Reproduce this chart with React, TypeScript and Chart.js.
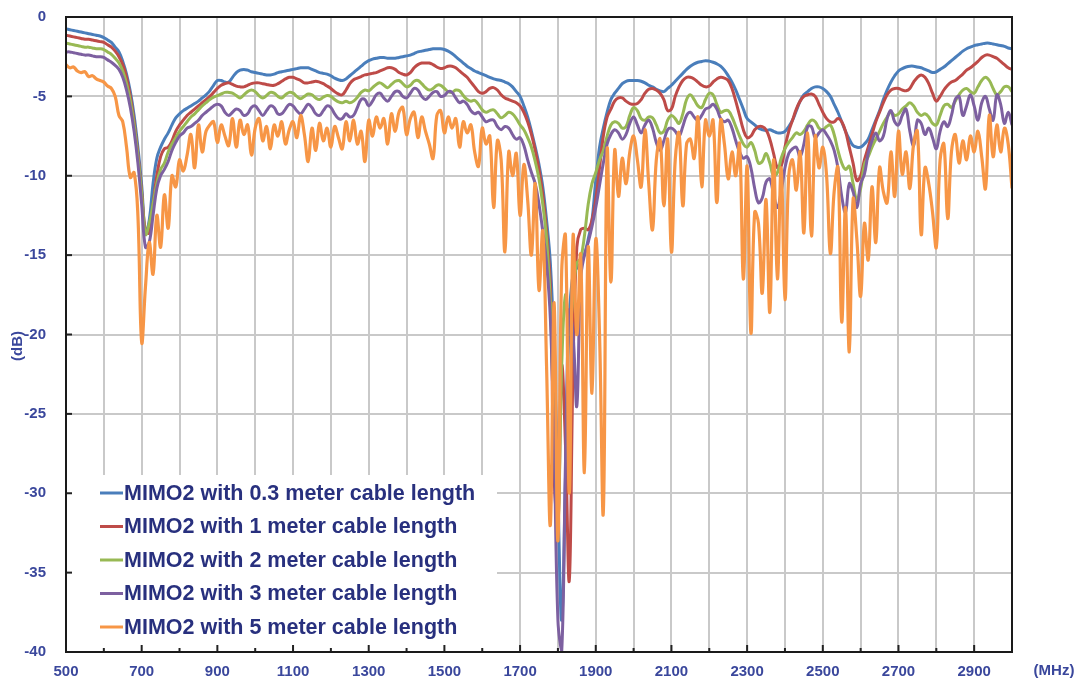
import React, { useEffect, useRef } from "react";
import { Chart, registerables } from "chart.js";

Chart.register(...registerables);

// Frequency sampling grid (MHz)
const FREQ_START = 500;
const FREQ_STEP = 10;

// Series values (dB), one value per 10 MHz from 500 to 3000 MHz
const cable03m = [
  -0.75, -0.8, -0.85, -0.9, -0.95, -1.0, -1.05, -1.1, -1.15, -1.2,
  -1.3, -1.45, -1.6, -1.9, -2.2, -2.8, -3.6, -4.7, -6.2, -8.2,
  -10.6, -13.6, -12.8, -10.5, -8.9, -8.2, -7.7, -7.3, -6.8, -6.35,
  -6.1, -5.9, -5.75, -5.6, -5.45, -5.3, -5.1, -4.9, -4.65, -4.3,
  -4.0, -4.0, -4.1, -4.1, -3.8, -3.5, -3.35, -3.3, -3.35, -3.45,
  -3.5, -3.55, -3.6, -3.65, -3.65, -3.6, -3.5, -3.45, -3.4, -3.35,
  -3.3, -3.25, -3.2, -3.2, -3.2, -3.3, -3.4, -3.5, -3.55, -3.6,
  -3.7, -3.85, -3.95, -4.0, -3.9, -3.7, -3.5, -3.3, -3.1, -2.9,
  -2.75, -2.65, -2.6, -2.55, -2.55, -2.6, -2.6, -2.6, -2.55, -2.5,
  -2.45, -2.4, -2.3, -2.2, -2.15, -2.1, -2.05, -2.0, -2.0, -2.0,
  -2.05, -2.15, -2.3, -2.5, -2.7, -2.9, -3.1, -3.25, -3.4, -3.5,
  -3.6, -3.7, -3.8, -3.9, -3.95, -4.0, -4.1, -4.2, -4.4, -4.7,
  -5.0, -5.6, -6.3, -7.2, -8.2, -9.3, -10.7, -12.8, -15.5, -21,
  -30, -38, -29, -19, -16.2, -15.8, -15.5, -15.0, -14.0, -12.8,
  -10.3, -8.2, -7.0, -6.0, -5.2, -4.8, -4.5, -4.2, -4.05, -4.0,
  -4.0, -4.0, -4.05, -4.15, -4.3, -4.4, -4.55, -4.65, -4.7, -4.5,
  -4.3, -4.05, -3.8, -3.55, -3.3, -3.1, -2.95, -2.85, -2.8, -2.75,
  -2.78, -2.85, -2.95, -3.1, -3.35, -3.7, -4.1, -4.6, -5.2, -5.8,
  -6.4, -6.6, -6.8, -7.0, -7.1, -7.15, -7.1, -7.2, -7.3, -7.3,
  -7.2, -6.9, -6.5, -5.9, -5.3, -4.9, -4.7, -4.5, -4.4, -4.4,
  -4.5, -4.7, -5.0, -5.5, -6.0, -6.6, -7.2, -7.7, -8.1, -8.2,
  -8.2, -8.0, -7.7, -7.1, -6.5, -5.9, -5.2, -4.6, -4.1, -3.7,
  -3.4, -3.25, -3.15, -3.1, -3.1, -3.15, -3.2, -3.3, -3.4, -3.5,
  -3.45, -3.3, -3.15, -2.95, -2.75, -2.55, -2.35, -2.15, -2.0, -1.9,
  -1.8, -1.75, -1.7, -1.65, -1.65, -1.7, -1.75, -1.8, -1.85, -1.95,
  -2.0,
];

const cable1m = [
  -1.15, -1.2, -1.25, -1.3, -1.35, -1.4, -1.4, -1.45, -1.5, -1.55,
  -1.6, -1.75, -1.9, -2.15, -2.5, -3.0, -3.8, -5.0, -6.6, -8.6,
  -11.0, -13.5, -13.6, -11.8, -10.0, -8.8, -8.3, -8.2, -7.8, -7.2,
  -6.8, -6.5, -6.2, -6.0, -5.8, -5.6, -5.4, -5.2, -5.0, -4.75,
  -4.5, -4.3, -4.2, -4.15, -4.25, -4.35, -4.4, -4.4, -4.3, -4.2,
  -4.15, -4.15, -4.2, -4.25, -4.3, -4.3, -4.2, -4.05, -3.9, -3.8,
  -3.8, -3.9, -4.0, -4.15, -4.15, -4.1, -4.05, -4.1, -4.2, -4.35,
  -4.5, -4.7, -4.85, -4.9, -4.6, -4.2, -3.95, -3.85, -3.75, -3.65,
  -3.6, -3.55, -3.5, -3.4, -3.3, -3.2, -3.2, -3.3, -3.5, -3.6,
  -3.65, -3.5, -3.2, -3.0, -2.9, -2.9, -2.9, -3.0, -3.15, -3.25,
  -3.2, -3.1, -3.1, -3.2, -3.4, -3.6, -3.8, -4.1, -4.4, -4.7,
  -4.8, -4.7, -4.5, -4.45, -4.6, -4.9, -5.1, -5.2, -5.3, -5.4,
  -5.6, -6.0, -6.6, -7.4, -8.4, -9.6, -11.2, -13.5, -17, -29,
  -32, -22, -27, -35.5, -22, -14.5, -13.4, -13.3, -13.4, -12.8,
  -11.5, -9.5, -7.5, -6.3, -5.8, -5.3, -5.1, -5.1, -5.3, -5.45,
  -5.5, -5.45, -5.2, -4.8, -4.55, -4.5, -4.6, -4.8, -5.2, -5.9,
  -5.8, -5.0, -4.4, -4.0, -3.8, -3.8, -3.9, -4.1, -4.3, -4.4,
  -4.35, -4.1, -3.9, -3.8, -3.85, -4.0, -4.5, -5.3, -6.2, -7.1,
  -7.6, -7.5, -7.1, -6.9, -6.9, -7.1, -7.7, -8.6, -9.5, -9.4,
  -8.2, -7.2, -6.5, -5.8, -5.3, -5.0, -4.9, -4.85, -5.0, -5.5,
  -6.0, -6.4, -6.6, -6.6, -6.4, -6.6, -7.2, -8.2, -9.2, -10.3,
  -10.0, -9.0, -8.2, -7.4, -6.6, -6.0, -5.4, -4.9, -4.6, -4.5,
  -4.5, -4.6, -4.65, -4.5, -4.1, -3.8, -3.65, -3.8, -4.2, -4.8,
  -5.3, -5.0, -4.6, -4.3, -4.1, -4.0, -3.8, -3.6, -3.35, -3.2,
  -3.0, -2.8, -2.55, -2.4, -2.4, -2.5, -2.6, -2.8, -3.0, -3.2,
  -3.3,
];

const cable2m = [
  -1.65, -1.7, -1.75, -1.8, -1.85, -1.9, -1.9, -1.95, -2.0, -2.0,
  -2.05, -2.2, -2.35, -2.6, -2.9, -3.4, -4.2, -5.3, -6.8, -8.8,
  -11.2, -13.7, -13.0, -11.8, -10.5, -9.6, -9.2, -8.5, -8.0, -7.6,
  -7.2, -6.9, -6.6, -6.3, -6.1, -5.85, -5.6, -5.4, -5.2, -5.05,
  -4.95, -4.85, -4.75, -4.75, -4.8, -4.95, -5.1, -4.9, -4.7, -4.6,
  -4.7, -4.95, -5.1, -4.95, -4.75, -4.8, -5.0, -5.1, -4.9, -4.75,
  -4.8, -5.0, -5.15, -5.0, -4.85, -4.9, -5.1, -5.2, -5.05, -4.95,
  -5.0, -5.2, -5.35, -5.4, -5.3, -5.4, -5.3, -5.05, -4.75, -4.6,
  -4.65, -4.45, -4.25, -4.15, -4.3, -4.45, -4.25, -4.05, -4.0, -4.2,
  -4.4, -4.3, -4.05, -4.0, -4.2, -4.45, -4.6, -4.5, -4.3, -4.3,
  -4.5, -4.7, -4.75, -4.6, -4.65, -4.95, -5.2, -5.3, -5.25, -5.5,
  -5.85, -6.0, -5.9, -5.85, -6.1, -6.35, -6.2, -6.0, -6.1, -6.4,
  -6.8, -7.1, -7.6, -8.2, -9.1, -10.2, -11.8, -14, -18, -26,
  -32, -22, -17.5, -20, -17.5, -15.5, -15.2, -13.8, -11.8, -10.5,
  -9.8, -9.0, -8.4, -7.5, -6.8, -6.6, -6.7, -7.0, -6.9, -6.2,
  -5.7, -5.9, -6.4, -6.5, -6.3, -6.35, -6.8, -7.3, -7.2, -6.5,
  -6.2, -6.4, -6.7, -6.1, -5.2, -4.9, -5.2, -5.6, -5.7, -5.2,
  -4.8, -4.9, -5.5, -6.0, -5.9, -5.9, -6.3, -6.9, -7.5, -8.0,
  -8.2, -7.9, -8.4, -9.2, -9.1, -8.6, -9.2, -10.0, -9.8, -8.9,
  -8.3, -7.9, -7.6, -7.3, -7.4, -7.2, -6.8, -6.5, -6.6, -7.0,
  -7.1, -6.9, -6.8, -7.4, -8.4, -9.2, -9.6, -9.4, -10.5, -11.5,
  -10.8, -9.3, -8.8, -8.2, -7.7, -7.2, -6.7, -6.3, -6.0, -6.2,
  -6.1, -5.8, -5.6, -5.4, -5.6, -6.0, -6.2, -6.1, -6.3, -6.7,
  -6.8, -6.2, -5.6, -5.5, -5.7, -5.3, -4.9, -4.6, -4.5, -4.7,
  -4.8, -4.4, -4.0, -3.8, -4.0, -4.5, -4.9, -4.7, -4.4, -4.4,
  -4.7,
];

const cable3m = [
  -2.2, -2.2, -2.25, -2.3, -2.35, -2.4, -2.4, -2.45, -2.5, -2.5,
  -2.55, -2.7, -2.85, -3.05, -3.3, -3.8, -4.6, -5.7, -7.2, -9.2,
  -11.8, -14.5, -14.2, -12.5, -10.8, -10.0, -9.6, -9.1, -8.4, -7.9,
  -7.5, -7.3, -7.0, -6.9, -6.7, -6.5, -6.2, -6.0, -5.8, -5.6,
  -5.5, -5.6, -6.0, -6.2, -6.0, -5.8, -5.9, -6.2, -6.1, -5.7,
  -5.6, -5.9, -6.2, -5.9, -5.6, -5.7, -6.1, -6.1, -5.8, -5.5,
  -5.6, -5.9, -6.1, -5.8, -5.5, -5.7, -6.1, -6.2, -5.9, -5.6,
  -5.7, -6.1, -6.4, -6.4, -6.1, -6.3, -6.2, -5.7, -5.2, -5.2,
  -5.6, -5.3, -4.9, -4.8, -5.1, -5.3, -5.0, -4.7, -4.7, -5.0,
  -5.1, -4.8, -4.5, -4.6, -5.0, -5.2, -5.0, -4.75, -4.7, -5.0,
  -4.95, -4.7, -4.75, -5.1, -5.4, -5.3, -5.5, -5.9, -6.1, -6.0,
  -6.3, -6.6, -6.5, -6.5, -6.9, -7.1, -6.9, -7.0, -7.4, -7.7,
  -7.6, -8.1, -9.0, -9.8, -10.5, -11.8, -13.5, -15.5, -19, -27,
  -38, -40, -28, -18.5, -20, -24.5, -16.5, -15.0, -14.2, -13.2,
  -12.0, -10.6, -9.2, -8.0, -7.4, -7.1, -7.3, -7.7, -7.4, -6.7,
  -6.3, -6.8, -7.3, -6.8, -6.5, -7.0, -7.9, -8.4, -7.8, -7.1,
  -7.0, -7.2, -7.5, -6.9, -6.2, -6.0, -6.3, -6.5, -6.2, -5.8,
  -5.7, -5.5, -5.8, -6.4, -6.6, -6.5, -7.0, -7.8, -8.5, -8.9,
  -8.8, -9.5, -10.8, -11.7, -11.4, -10.4, -10.2, -11.2, -12.0, -11.0,
  -9.5, -8.6, -8.3, -8.2, -8.8, -8.0, -6.9, -6.9, -7.6, -7.3,
  -7.1, -7.4, -7.8, -8.4, -9.5, -11.3, -12.3, -10.5, -11.0, -12.0,
  -10.5, -9.9, -8.6, -7.8, -7.3, -7.8, -7.5, -6.4, -5.9, -6.6,
  -6.8, -6.2, -5.8, -7.2, -8.1, -6.5, -6.7, -7.4, -7.0, -7.6,
  -8.3, -7.2, -6.6, -6.9, -6.2, -5.2, -5.0, -6.2, -5.6, -4.9,
  -5.6, -6.5, -5.4, -5.0, -5.8, -6.5, -4.9, -5.5, -6.7, -6.0,
  -6.8,
];

const cable5m = [
  -3.0, -3.2, -3.15, -3.4, -3.5, -3.45, -3.75, -3.7, -3.9, -4.0,
  -4.1, -4.35, -4.5, -5.0, -6.2, -6.6, -8.2, -10.1, -9.8, -12.5,
  -20.5, -17.0, -14.2, -16.2, -12.5, -14.5, -11.2, -13.3, -10.0, -10.7,
  -9.0, -9.7, -8.7, -7.4, -9.5, -6.8, -8.5, -7.2, -6.8, -6.6,
  -7.9, -6.8, -7.5, -8.1, -6.4, -8.2, -6.5, -7.4, -6.8, -8.7,
  -7.0, -6.4, -7.8, -6.9, -8.3, -6.8, -7.5, -6.6, -8.0, -7.1,
  -6.6, -7.6, -6.2, -7.4, -9.1, -7.0, -8.4, -6.7, -7.8, -7.0,
  -8.2, -6.9, -7.6, -8.3, -6.6, -7.8, -6.5, -8.0, -7.2, -9.1,
  -6.5, -7.5, -6.3, -7.0, -6.4, -8.0, -6.1, -7.2, -6.0, -5.7,
  -7.4, -6.4, -6.0, -7.6, -6.3, -7.2, -8.0, -8.9, -6.2, -5.9,
  -7.3, -6.3, -7.0, -6.4, -8.2, -6.6, -7.3, -6.8, -8.5, -9.4,
  -7.0, -8.0, -7.5, -12.0, -7.8, -9.0, -14.8, -8.5, -10.0, -8.6,
  -12.5, -9.3, -11.5, -15.0, -10.5, -17.2, -13.5, -22.0, -32.0, -18.0,
  -33.0, -16.0, -13.8, -30.0, -13.8, -20.0, -15.0, -28.7, -14.5, -23.7,
  -14.0, -20.0, -31.2, -8.4, -16.7, -8.4, -11.3, -8.9, -10.5, -8.5,
  -7.5, -9.0, -10.7, -7.1, -10.5, -13.4, -9.0, -7.7, -11.9, -7.7,
  -14.8, -9.0, -7.3, -11.9, -8.0, -7.7, -8.9, -6.3, -10.7, -6.5,
  -7.5, -6.5, -11.7, -6.5, -8.0, -10.2, -8.5, -10.0, -8.0, -16.5,
  -9.4, -19.9, -12.3, -13.0, -17.4, -11.5, -18.6, -9.0, -16.5, -9.5,
  -17.8, -10.0, -9.0, -10.9, -8.5, -13.6, -7.3, -13.8, -7.5, -9.5,
  -8.2, -10.0, -14.9, -11.0, -9.5, -19.2, -12.0, -21.1, -11.5, -14.0,
  -17.6, -13.0, -15.3, -10.7, -14.2, -9.5, -11.0, -11.7, -8.5, -11.3,
  -7.2, -9.9, -8.5, -10.8, -8.0, -7.2, -13.7, -9.5, -10.5, -12.3,
  -14.5, -9.0, -8.0, -12.7, -8.5, -7.4, -9.2, -7.8, -9.0, -7.5,
  -8.5, -7.2, -8.8, -10.8, -6.2, -8.8, -6.8, -8.5, -7.0, -8.0,
  -10.8,
];

const seriesLabels = [
  "MIMO2 with 0.3 meter cable length",
  "MIMO2 with 1 meter cable length",
  "MIMO2 with 2 meter cable length",
  "MIMO2 with 3 meter cable length",
  "MIMO2 with 5 meter cable length",
];
const seriesColors = ["#4a7ebb", "#be4b48", "#98b954", "#7d60a0", "#f79646"];

const xLabeledTicks = [500, 700, 900, 1100, 1300, 1500, 1700, 1900, 2100, 2300, 2500, 2700, 2900];
const xUnit = "(MHz)";
const yUnit = "(dB)";

const TICK_COLOR = "#3a479c";
const LEGEND_COLOR = "#28307e";
const FONT = "'Liberation Sans', Arial, sans-serif";

const framePlugin = {
  id: "frame",
  beforeDatasetsDraw(chart: any) {
    const { ctx, chartArea } = chart;
    ctx.save();
    ctx.fillStyle = "#ffffff";
    ctx.fillRect(chartArea.left + 1, 475, 497 - chartArea.left - 1, chartArea.bottom - 475);
    ctx.restore();
  },
  afterDatasetsDraw(chart: any) {
    const { ctx, chartArea, scales } = chart;
    const { left, right, top, bottom } = chartArea;
    ctx.save();
    // inner tick marks
    ctx.strokeStyle = "#222";
    ctx.lineWidth = 2;
    scales.x.ticks.forEach((t: any) => {
      const px = scales.x.getPixelForValue(t.value);
      const major = xLabeledTicks.includes(t.value);
      ctx.beginPath();
      ctx.moveTo(px, bottom);
      ctx.lineTo(px, bottom - (major ? 7 : 4));
      ctx.stroke();
    });
    scales.y.ticks.forEach((t: any) => {
      const py = scales.y.getPixelForValue(t.value);
      ctx.beginPath();
      ctx.moveTo(left, py);
      ctx.lineTo(left + 6, py);
      ctx.stroke();
    });
    // frame
    ctx.strokeStyle = "#1a1a1a";
    ctx.lineWidth = 2;
    ctx.strokeRect(left, top, right - left, bottom - top);

    // legend
    const rowY0 = 493;
    const rowStep = 33.5;
    chart.data.datasets.forEach((ds: any, i: number) => {
      const y = rowY0 + i * rowStep;
      ctx.strokeStyle = ds.borderColor;
      ctx.lineWidth = 3;
      ctx.beginPath();
      ctx.moveTo(100, y);
      ctx.lineTo(123, y);
      ctx.stroke();
      ctx.fillStyle = LEGEND_COLOR;
      ctx.font = `bold 21.5px ${FONT}`;
      ctx.textBaseline = "middle";
      ctx.textAlign = "left";
      ctx.fillText(ds.label, 124, y + 1);
    });

    // axis unit labels
    ctx.fillStyle = TICK_COLOR;
    ctx.font = `bold 15px ${FONT}`;
    ctx.textAlign = "center";
    ctx.textBaseline = "middle";
    ctx.fillText(xUnit, 1054, 671);
    ctx.translate(18, 346);
    ctx.rotate(-Math.PI / 2);
    ctx.fillText(yUnit, 0, 0);
    ctx.restore();
  },
};

export default function App() {
  const canvasRef = useRef<HTMLCanvasElement>(null);

  useEffect(() => {
    document.body.style.margin = "0";
    const canvas = canvasRef.current;
    if (!canvas) return;
    const series = [cable03m, cable1m, cable2m, cable3m, cable5m];
    const datasets = series.map((vals, i) => ({
      label: seriesLabels[i],
      data: vals.map((v, j) => ({ x: FREQ_START + j * FREQ_STEP, y: v })),
      borderColor: seriesColors[i],
      backgroundColor: seriesColors[i],
      borderWidth: i === 4 ? 3.2 : 3,
      pointRadius: 0,
      tension: 0.4,
      fill: false,
      order: series.length - i,
    }));

    const chart = new Chart(canvas, {
      type: "line",
      data: { datasets },
      options: {
        animation: false,
        responsive: false,
        devicePixelRatio: 1,
        layout: { padding: { left: 0, right: 73, top: 17, bottom: 0 } },
        plugins: {
          legend: { display: false },
          tooltip: { enabled: false },
          title: { display: false },
        },
        scales: {
          x: {
            type: "linear",
            min: 500,
            max: 3000,
            ticks: {
              stepSize: 100,
              autoSkip: false,
              maxRotation: 0,
              minRotation: 0,
              padding: 11,
              color: TICK_COLOR,
              font: { family: FONT, size: 15, weight: "bold" },
              callback: (v: any) => (xLabeledTicks.includes(Number(v)) ? String(v) : ""),
            },
            grid: { color: "#c9c9c9", lineWidth: 2, drawTicks: false },
            border: { display: false },
            afterFit: (s: any) => {
              s.height = 32;
              s.paddingLeft = 0;
              s.paddingRight = 0;
            },
          },
          y: {
            type: "linear",
            min: -40,
            max: 0,
            ticks: {
              stepSize: 5,
              padding: 20,
              color: TICK_COLOR,
              font: { family: FONT, size: 15, weight: "bold" },
            },
            grid: { color: "#c9c9c9", lineWidth: 2, drawTicks: false },
            border: { display: false },
            afterFit: (s: any) => {
              s.width = 66;
              s.paddingTop = 0;
              s.paddingBottom = 0;
            },
          },
        },
      },
      plugins: [framePlugin],
    });
    return () => chart.destroy();
  }, []);

  return (
    <div style={{ width: 1085, height: 684, position: "relative", background: "#fff" }}>
      <canvas ref={canvasRef} width={1085} height={684} style={{ display: "block" }} />
    </div>
  );
}
